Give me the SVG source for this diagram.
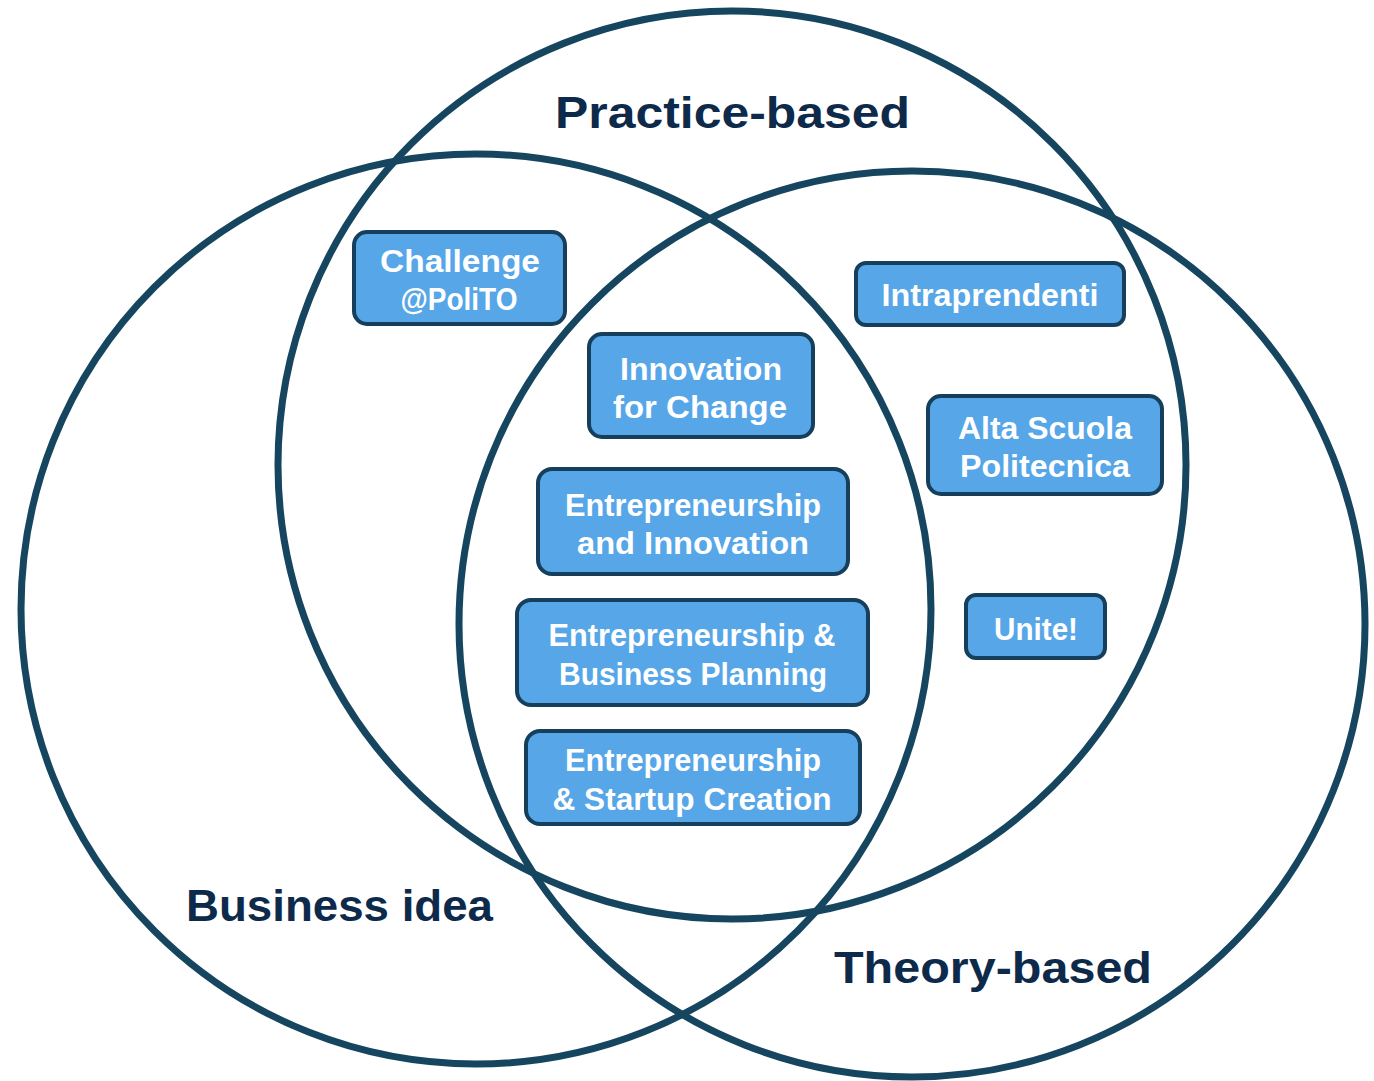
<svg xmlns="http://www.w3.org/2000/svg" width="1374" height="1081" viewBox="0 0 1374 1081">
<style>
.c{fill:none;stroke:#16465f;stroke-width:7}
.b{fill:#56a6e8;stroke:#153f5a;stroke-width:4}
.t{font-family:"Liberation Sans",Arial,sans-serif;font-weight:bold;font-size:31px;fill:#ffffff;text-anchor:middle}
.h{font-family:"Liberation Sans",Arial,sans-serif;font-weight:bold;font-size:44px;fill:#0e2a4b}
</style>
<rect width="1374" height="1081" fill="#ffffff"/>
<g id="circles">
<circle id="practice" class="c" cx="732" cy="465" r="454"/>
<circle id="business" class="c" cx="476" cy="609" r="455"/>
<circle id="theory" class="c" cx="912" cy="624" r="453"/>
</g>
<g id="labels">
<text class="h" x="555" y="128" textLength="355" lengthAdjust="spacingAndGlyphs">Practice-based</text>
<text class="h" x="186" y="921" textLength="307" lengthAdjust="spacingAndGlyphs">Business idea</text>
<text class="h" x="834" y="983" textLength="318" lengthAdjust="spacingAndGlyphs">Theory-based</text>
</g>
<g id="connectors"></g>
<g id="n1"><rect class="b" x="354" y="232" width="211" height="92" rx="13"/>
<text class="t" x="460" y="272" textLength="160" lengthAdjust="spacingAndGlyphs">Challenge</text>
<text class="t" x="459" y="310" textLength="117" lengthAdjust="spacingAndGlyphs">@PoliTO</text></g>
<g id="n2"><rect class="b" x="856" y="263" width="268" height="62" rx="10"/>
<text class="t" x="990" y="306" textLength="217" lengthAdjust="spacingAndGlyphs">Intraprendenti</text></g>
<g id="n3"><rect class="b" x="589" y="334" width="224" height="103" rx="13"/>
<text class="t" x="701" y="380" textLength="162" lengthAdjust="spacingAndGlyphs">Innovation</text>
<text class="t" x="700" y="418" textLength="174" lengthAdjust="spacingAndGlyphs">for Change</text></g>
<g id="n4"><rect class="b" x="928" y="396" width="234" height="98" rx="13"/>
<text class="t" x="1045" y="439" textLength="174" lengthAdjust="spacingAndGlyphs">Alta Scuola</text>
<text class="t" x="1045" y="477" textLength="170" lengthAdjust="spacingAndGlyphs">Politecnica</text></g>
<g id="n5"><rect class="b" x="538" y="469" width="310" height="105" rx="14"/>
<text class="t" x="693" y="516" textLength="256" lengthAdjust="spacingAndGlyphs">Entrepreneurship</text>
<text class="t" x="693" y="554" textLength="232" lengthAdjust="spacingAndGlyphs">and Innovation</text></g>
<g id="n6"><rect class="b" x="966" y="595" width="139" height="63" rx="10"/>
<text class="t" x="1036" y="640" textLength="84" lengthAdjust="spacingAndGlyphs">Unite!</text></g>
<g id="n7"><rect class="b" x="517" y="600" width="351" height="105" rx="14"/>
<text class="t" x="692" y="646" textLength="287" lengthAdjust="spacingAndGlyphs">Entrepreneurship &amp;</text>
<text class="t" x="693" y="685" textLength="268" lengthAdjust="spacingAndGlyphs">Business Planning</text></g>
<g id="n8"><rect class="b" x="526" y="731" width="334" height="93" rx="14"/>
<text class="t" x="693" y="771" textLength="256" lengthAdjust="spacingAndGlyphs">Entrepreneurship</text>
<text class="t" x="692" y="810" textLength="279" lengthAdjust="spacingAndGlyphs">&amp; Startup Creation</text></g>
</svg>
